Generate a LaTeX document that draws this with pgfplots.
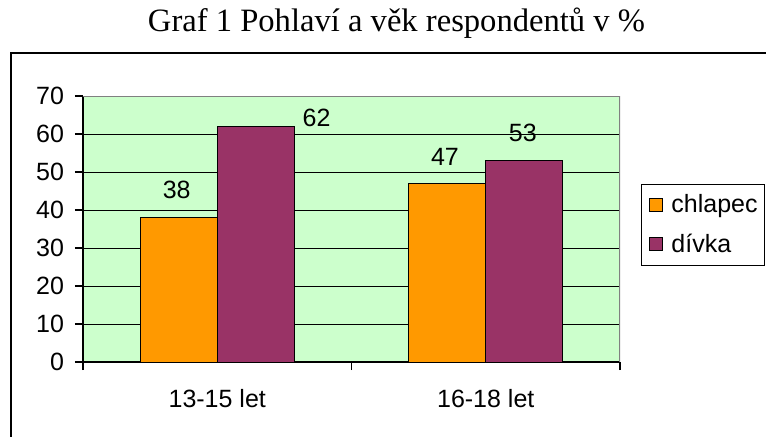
\documentclass[border=0pt]{standalone}
\usepackage{fontspec}
\setmainfont{Liberation Sans}
\newfontfamily\titlefont{Liberation Serif}
\usepackage{pgfplots}
\pgfplotsset{compat=1.18}
\definecolor{plotgreen}{HTML}{CCFFCC}
\definecolor{barorange}{HTML}{FF9900}
\definecolor{barpurple}{HTML}{993366}
\begin{document}
\begin{tikzpicture}
\useasboundingbox (0,0) rectangle (383pt,-218pt);
\begin{scope}[x=0.5pt,y=-0.5pt]
\draw[line width=0.75pt] (11,445) -- (11,53) -- (775,53);
\node[font=\titlefont\fontsize{16.3}{19}\selectfont] at (396.5,23) {Graf 1 Pohlaví a věk respondentů v \%};
\end{scope}
\begin{axis}[
  at={(41.5pt,-181pt)}, anchor=south west,
  scale only axis, width=268.5pt, height=133pt,
  xmin=-0.5, xmax=1.5, ymin=0, ymax=70,
  axis background/.style={fill=plotgreen},
  ybar=0pt, bar width=38.5pt,
  ytick={0,10,...,70},
  ymajorgrids, grid style={black, line width=0.5pt},
  xtick={-0.5,0.5,1.5}, xticklabels={},
  extra x ticks={0,1}, extra x tick labels={13-15 let,16-18 let},
  extra x tick style={major tick length=0pt, tick label style={yshift=-10pt}},
  tick align=outside, major tick length=4pt,
  tick style={black, line width=0.6pt},
  axis x line*=bottom, axis y line*=left,
  axis line style={-, black, line width=0.6pt},
  /pgf/number format/assume math mode=true,
  tick label style={font=\fontsize{12.5}{15}\selectfont},
  yticklabel style={xshift=-2pt},
  legend style={at={(1.039,0.669)}, anchor=north west, draw=black, line width=0.5pt,
    font=\fontsize{12.5}{15}\selectfont, row sep=5pt, inner xsep=1.5pt, inner ysep=3pt},
  legend cell align=left,
]
\draw[gray, line width=0.6pt] (rel axis cs:0,1) -- (rel axis cs:1,1) -- (rel axis cs:1,0);
\addplot[fill=barorange, draw=black, line width=0.5pt,
  legend image code/.code={\path[draw=none,fill=none] (-2.5pt,0) -- (9pt,0);\draw[fill=barorange,draw=black,line width=0.4pt] (0pt,-3.25pt) rectangle (6.5pt,3.25pt);}]
  coordinates {(0,38) (1,47)};
\addplot[fill=barpurple, draw=black, line width=0.5pt,
  legend image code/.code={\path[draw=none,fill=none] (-2.5pt,0) -- (9pt,0);\draw[fill=barpurple,draw=black,line width=0.4pt] (0pt,-3.25pt) rectangle (6.5pt,3.25pt);}]
  coordinates {(0,62) (1,53)};
\legend{chlapec, dívka}
\node[font=\fontsize{12.5}{15}\selectfont] at (axis cs:-0.151,45.26) {38};
\node[font=\fontsize{12.5}{15}\selectfont] at (axis cs:0.370,64.2) {62};
\node[font=\fontsize{12.5}{15}\selectfont] at (axis cs:0.848,54.0) {47};
\node[font=\fontsize{12.5}{15}\selectfont] at (axis cs:1.138,60.3) {53};
\end{axis}
\end{tikzpicture}
\end{document}
